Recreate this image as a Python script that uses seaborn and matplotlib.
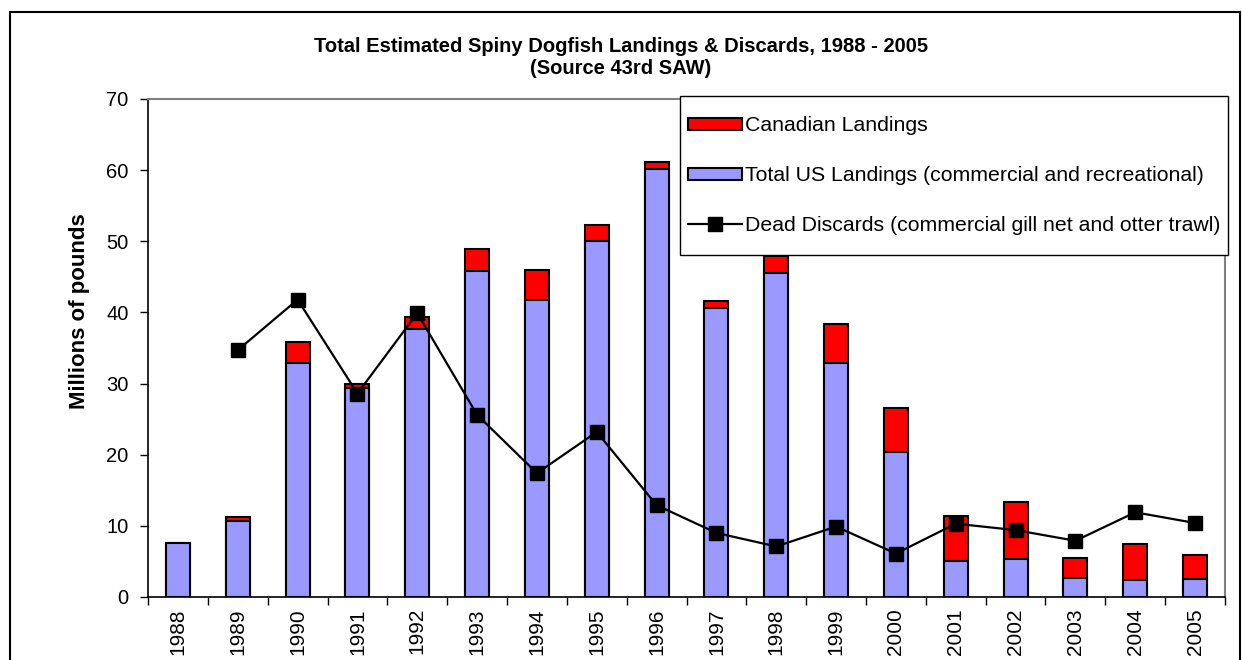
import numpy as np
import pandas as pd
import matplotlib
matplotlib.use("Agg")
import matplotlib.pyplot as plt
import seaborn as sns
from matplotlib.patches import Patch, Rectangle
from matplotlib.lines import Line2D
from matplotlib.path import Path

years = [str(y) for y in range(1988, 2006)]
us_landings = [7.6, 10.7, 32.9, 29.4, 37.7, 45.8, 41.8, 50.1, 60.1, 40.6,
               45.6, 32.9, 20.4, 5.1, 5.3, 2.6, 2.4, 2.5]
canadian_landings = [0.0, 0.6, 3.0, 0.6, 1.7, 3.1, 4.1, 2.2, 1.0, 1.0,
                     2.4, 5.5, 6.1, 6.3, 8.0, 2.9, 5.1, 3.4]
dead_discards = [np.nan, 34.7, 41.8, 28.6, 39.9, 25.6, 17.4, 23.2, 12.9, 9.0,
                 7.1, 9.9, 6.1, 10.3, 9.4, 7.9, 11.9, 10.4]

df = pd.DataFrame({
    "year": years,
    "us": us_landings,
    "canada": canadian_landings,
    "discards": dead_discards,
})
df["total"] = df["us"] + df["canada"]
df["pos"] = np.arange(len(df))

sns.set_style("white")
plt.rcParams["font.family"] = ["Liberation Sans", "DejaVu Sans"]
plt.rcParams["text.color"] = "black"
plt.rcParams["axes.labelcolor"] = "black"
plt.rcParams["xtick.color"] = "black"
plt.rcParams["ytick.color"] = "black"

fig = plt.figure(figsize=(12.42, 6.6), dpi=100)
ax = fig.add_axes([0.1192, 0.0955, 0.8671, 0.7545])

red = "#ff0000"
blue = "#9999ff"

# stacked bars: total (red) drawn first, US (blue) over it
sns.barplot(data=df, x="year", y="total", color=red, width=0.4,
            edgecolor="black", linewidth=1.5, saturation=1, ax=ax)
sns.barplot(data=df, x="year", y="us", color=blue, width=0.4,
            edgecolor="black", linewidth=1.5, saturation=1, ax=ax)

d = df.dropna(subset=["discards"])
ax.plot(d["pos"], d["discards"], color="black", lw=1.6, marker="s",
        markersize=10, zorder=5)

ax.set_xlim(-0.5, len(years) - 0.5)
ax.set_ylim(0, 70)
ax.set_yticks(range(0, 71, 10))
ax.set_xlabel("")
ax.set_ylabel("Millions of pounds", fontsize=16, fontweight="bold")
ax.yaxis.set_label_coords(-0.054, 0.575)

ax.set_xticks(df["pos"])
ax.set_xticklabels(years, rotation=90, fontsize=15)
ax.tick_params(axis="x", which="major", length=0, pad=8)
ax.set_xticks(np.arange(-0.5, len(years), 1), minor=True)
ax.tick_params(axis="x", which="minor", length=6, width=1, color="black",
               direction="out", bottom=True)
ax.tick_params(axis="y", length=6, width=1, color="black", direction="out",
               left=True, labelsize=14.5, pad=8)

for s in ["left", "bottom"]:
    ax.spines[s].set_color("black")
    ax.spines[s].set_linewidth(1.2)
for s in ["top", "right"]:
    ax.spines[s].set_color("#808080")
    ax.spines[s].set_linewidth(1.5)

handles = [
    Patch(facecolor=red, edgecolor="black", linewidth=1.5),
    Patch(facecolor=blue, edgecolor="black", linewidth=1.5),
    Line2D([], [], color="black", lw=1.6, marker="s", markersize=10),
]
labels = [
    "Canadian Landings",
    "Total US Landings (commercial and recreational)",
    "Dead Discards (commercial gill net and otter trawl)",
]
leg = ax.legend(handles, labels, loc="upper right", bbox_to_anchor=(1.0028, 0.98),
                fontsize=15.3, frameon=True, fancybox=False, framealpha=1,
                edgecolor="black", labelspacing=1.45, handlelength=2.55,
                handleheight=0.5, handletextpad=0.15, borderpad=0.35,
                borderaxespad=0)
leg.get_frame().set_linewidth(1.0)


# legend frame: more room above and below than at the sides (Excel look)
def tall_box(x0, y0, width, height, mutation_size):
    e = 0.6 * mutation_size
    return Path([(x0, y0 - e), (x0 + width, y0 - e), (x0 + width, y0 + height + e),
                 (x0, y0 + height + e), (x0, y0 - e)], closed=True)


leg.get_frame().set_boxstyle(tall_box)

fig.text(0.5, 0.913, "Total Estimated Spiny Dogfish Landings & Discards, 1988 - 2005\n(Source 43rd SAW)",
         ha="center", va="center", fontsize=14.5, fontweight="bold", linespacing=1.2)

fig.patches.append(Rectangle((0.008, -0.1), 0.99, 1.082, transform=fig.transFigure,
                             fill=False, edgecolor="black", linewidth=1.5))

fig.savefig("out.png", dpi=100)
